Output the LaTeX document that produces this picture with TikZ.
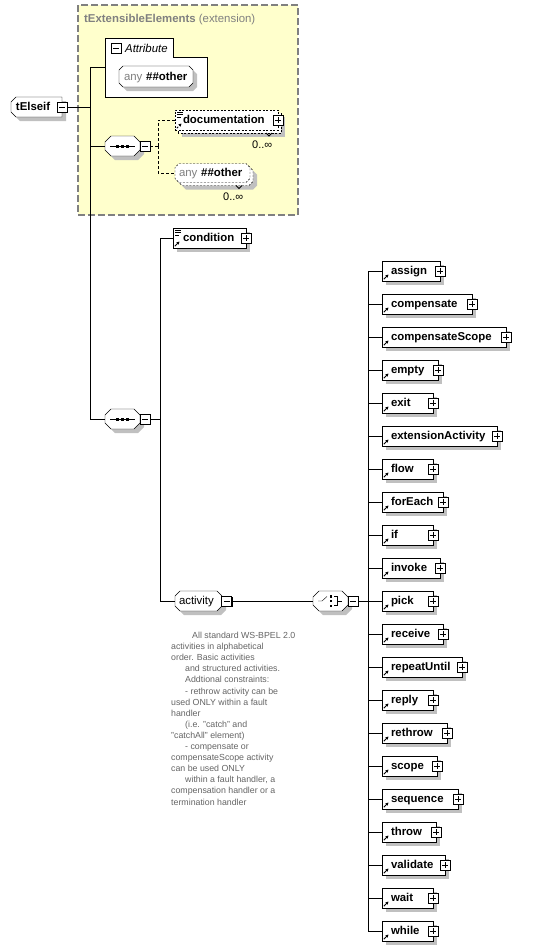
\documentclass[tikz,border=0pt]{standalone}
\usepackage{fontspec}
\setmainfont{Liberation Sans}
\usetikzlibrary{shadows,arrows.meta,calc}
\pgfdeclarelayer{back}
\pgfdeclarelayer{bg}
\pgfsetlayers{back,bg,main}
\definecolor{shd}{RGB}{192,192,192}
\definecolor{ybg}{RGB}{255,255,204}
\definecolor{ybd}{RGB}{128,128,128}
\definecolor{gtx}{RGB}{128,128,128}
\definecolor{ann}{RGB}{100,100,100}
\newcommand\octshape[3]{\path[#1] ([xshift=#3]#2.north west) -- ([xshift=-#3]#2.north east) -- ([yshift=-#3]#2.north east) -- ([yshift=#3]#2.south east) -- ([xshift=-#3]#2.south east) -- ([xshift=#3]#2.south west) -- ([yshift=#3]#2.south west) -- ([yshift=-#3]#2.north west) -- cycle;}
\newcommand\lshape[2]{\path[#1] ([xshift=5pt]#2.north west) -- (#2.north east) -- (#2.south east) -- ([xshift=5pt]#2.south west) -- ([yshift=5pt]#2.south west) -- ([yshift=-5pt]#2.north west) -- cycle;}
\newcommand\seqsym[1]{%
  \draw ([xshift=5pt]#1.west) -- ([xshift=30pt]#1.west);
  \fill ([shift={(11pt,-1.5pt)}]#1.west) rectangle ([shift={(14pt,1.5pt)}]#1.west);
  \fill ([shift={(16pt,-1.5pt)}]#1.west) rectangle ([shift={(19pt,1.5pt)}]#1.west);
  \fill ([shift={(21pt,-1.5pt)}]#1.west) rectangle ([shift={(24pt,1.5pt)}]#1.west);}
\newcommand\choicesym[1]{%
  \draw ([xshift=5pt]#1.west) -- ([xshift=9pt]#1.west) -- ([shift={(14pt,4.5pt)}]#1.west);
  \fill ([shift={(16.5pt,3.5pt)}]#1.west) rectangle ([shift={(19pt,6pt)}]#1.west);
  \fill ([shift={(16.5pt,-1.25pt)}]#1.west) rectangle ([shift={(19pt,1.25pt)}]#1.west);
  \fill ([shift={(16.5pt,-6pt)}]#1.west) rectangle ([shift={(19pt,-3.5pt)}]#1.west);
  \draw ([shift={(21pt,4.5pt)}]#1.west) -- ([shift={(24pt,4.5pt)}]#1.west) -- ([shift={(24pt,-4.5pt)}]#1.west) -- ([shift={(21pt,-4.5pt)}]#1.west);
  \draw ([xshift=24pt]#1.west) -- ([xshift=29pt]#1.west);}
\newcommand\docicon[1]{%
  \draw[line width=0.7pt] ([shift={(2pt,-2.5pt)}]#1.north west) -- ([shift={(7.5pt,-2.5pt)}]#1.north west)
    ([shift={(2pt,-4.8pt)}]#1.north west) -- ([shift={(7.5pt,-4.8pt)}]#1.north west)
    ([shift={(2pt,-7.1pt)}]#1.north west) -- ([shift={(5.5pt,-7.1pt)}]#1.north west);}
\tikzset{
  lbl/.style={font=\fontsize{11.4}{13}\selectfont\bfseries},
  tbox/.style={anchor=west, minimum height=20pt, inner ysep=0pt, text height=9pt, text depth=1.5pt, align=left, outer sep=0pt, lbl},
  blank/.style={anchor=west, minimum height=20pt, inner sep=0pt, outer sep=0pt},
  refarrow/.style={path picture={\draw[line width=0.9pt,-{Stealth[length=3.2pt,width=3.2pt]}] ([shift={(1.8pt,1.8pt)}]path picture bounding box.south west) -- ([shift={(6.5pt,6.5pt)}]path picture bounding box.south west);}},
  elem/.style={tbox, draw, fill=white, inner xsep=9pt, refarrow, drop shadow={shadow xshift=4pt, shadow yshift=-4pt, opacity=1, fill=shd}},
  plusbox/.style={draw, fill=white, minimum size=10pt, inner sep=0pt, outer sep=0pt, drop shadow={shadow xshift=1.3pt, shadow yshift=-1.3pt, opacity=1, fill=black},
    path picture={\draw ([xshift=2pt]path picture bounding box.west) -- ([xshift=-2pt]path picture bounding box.east); \draw ([yshift=-2pt]path picture bounding box.north) -- ([yshift=2pt]path picture bounding box.south);}},
  minusbox/.style={draw, fill=white, minimum size=10pt, inner sep=0pt, outer sep=0pt, drop shadow={shadow xshift=1.3pt, shadow yshift=-1.3pt, opacity=1, fill=black},
    path picture={\draw ([xshift=2pt]path picture bounding box.west) -- ([xshift=-2pt]path picture bounding box.east);}},
  dashline/.style={dash pattern=on 3pt off 2pt},
  dashbox/.style={dash pattern=on 2pt off 1.5pt},
  card/.style={anchor=base west, inner sep=0pt, font=\fontsize{11}{13}\selectfont}
}
\newcommand\actel[3]{%
  \pgfmathsetmacro\tw{#3-382-18}%
  \node[elem, text width=\tw pt] (#1) at (382,#2) {\mbox{#1}};
  \node[plusbox] (#1-p) at (#1.east) {};
  \draw (b4) |- (#1.west);}
\begin{document}
\begin{tikzpicture}[x=1pt,y=-1pt,line width=1pt]
\useasboundingbox (0,0) rectangle (534,951);
% extension area
\begin{pgfonlayer}{back}
\filldraw[fill=ybg, draw=ybd, line width=1.5pt, dash pattern=on 7pt off 3pt] (78,5) rectangle (298,215);
\end{pgfonlayer}
\node[anchor=base west, inner sep=0pt, text=gtx, font=\fontsize{11.4}{13}\selectfont] (title) at (84,22.5) {\textbf{tExtensibleElements} (extension)};
% root element
\node[tbox, inner xsep=5pt, text width=41pt] (tElseif) at (11,107) {\mbox{tElseif}};
\begin{pgfonlayer}{bg}
\lshape{fill=shd, transform canvas={shift={(4pt,-4pt)}}}{tElseif}
\lshape{draw, fill=white}{tElseif}
\end{pgfonlayer}
\node[minusbox] (tElseif-m) at (tElseif.east) {};
\coordinate (b1) at (90,107);
\draw (tElseif-m.east) -- (b1);
% attributes
\node[anchor=north west, minimum width=102pt, minimum height=59pt, inner sep=0pt, outer sep=0pt] (attr) at (105,38) {};
\begin{pgfonlayer}{bg}
\filldraw[fill=white] (105,38) -- (173,38) -- (173,57) -- (207,57) -- (207,97) -- (105,97) -- cycle;
\end{pgfonlayer}
\node[minusbox] (attr-m) at (116,48) {};
\node[anchor=base west, inner sep=0pt, font=\fontsize{11.4}{13}\selectfont\itshape] (attrlbl) at (125,52) {Attribute};
\node[tbox, inner xsep=5pt, text width=64pt, minimum height=21pt] (any1) at (119,76.5) {\mbox{\textcolor{gtx}{\mdseries any} \#\#other}};
\begin{pgfonlayer}{bg}
\octshape{fill=shd, transform canvas={shift={(4pt,-4pt)}}}{any1}{4pt}
\octshape{draw, fill=white}{any1}{4pt}
\end{pgfonlayer}
\draw (b1) |- (attr.west);
% first sequence
\node[blank, minimum width=35pt] (seq1) at (105,146) {};
\begin{pgfonlayer}{bg}
\octshape{fill=shd, transform canvas={shift={(4pt,-4pt)}}}{seq1}{6pt}
\octshape{draw, fill=white}{seq1}{6pt}
\end{pgfonlayer}
\seqsym{seq1}
\node[minusbox] (seq1-m) at ([xshift=5pt]seq1.east) {};
\draw (b1) |- (seq1.west);
\coordinate (b2) at (158,146);
\draw[dashline] (seq1-m.east) -- (b2);
% documentation
\node[tbox, draw, dashbox, fill=white, inner xsep=8pt, text width=87pt, refarrow] (doc) at (175,120) {\mbox{documentation}};
\begin{pgfonlayer}{bg}
\fill[shd, transform canvas={shift={(7pt,-7pt)}}] (doc.south west) rectangle (doc.north east);
\filldraw[fill=white, dashbox, transform canvas={shift={(3pt,-3pt)}}] (doc.south west) rectangle (doc.north east);
\end{pgfonlayer}
\docicon{doc}
\node[plusbox] (doc-p) at (doc.east) {};
\draw[line width=0.8pt] (266,133) -- (269,136) -- (272,133);
\node[card] (doc-card) at (252,148) {0..∞};
\draw[dashline] (b2) |- (doc.west);
% any other (sequence)
\node[tbox, inner xsep=4pt, text width=67pt, minimum height=19pt] (any2) at (175,173) {\mbox{\textcolor{gtx}{\mdseries any} \#\#other}};
\begin{pgfonlayer}{bg}
\octshape{fill=shd, transform canvas={shift={(7pt,-7pt)}}}{any2}{4pt}
\octshape{draw, fill=white, dashbox, transform canvas={shift={(3pt,-3pt)}}}{any2}{4pt}
\octshape{draw, fill=white, dashbox}{any2}{4pt}
\end{pgfonlayer}
\draw[line width=0.8pt] (236,185.5) -- (239,188.5) -- (242,185.5);
\node[card] (any2-card) at (223,200) {0..∞};
\draw[dashline] (b2) |- (any2.west);
% second sequence
\node[blank, minimum width=35pt] (seq2) at (105,419) {};
\begin{pgfonlayer}{bg}
\octshape{fill=shd, transform canvas={shift={(4pt,-4pt)}}}{seq2}{6pt}
\octshape{draw, fill=white}{seq2}{6pt}
\end{pgfonlayer}
\seqsym{seq2}
\node[minusbox] (seq2-m) at ([xshift=5pt]seq2.east) {};
\draw (b1) |- (seq2.west);
\coordinate (b3) at (160,419);
\draw (seq2-m.east) -- (b3);
% condition
\node[elem, inner xsep=10pt, text width=53pt] (condition) at (173,238) {\mbox{condition}};
\docicon{condition}
\node[plusbox] (condition-p) at (condition.east) {};
\draw (b3) |- (condition.west);
% activity group
\node[tbox, font=\fontsize{11.4}{13}\selectfont, inner xsep=4pt, text width=39pt] (activity) at (175,601) {\mbox{activity}};
\begin{pgfonlayer}{bg}
\octshape{fill=shd, transform canvas={shift={(4pt,-4pt)}}}{activity}{5pt}
\octshape{draw, fill=white}{activity}{5pt}
\end{pgfonlayer}
\node[minusbox] (activity-m) at ([xshift=4.5pt]activity.east) {};
\draw (b3) |- (activity.west);
% choice
\node[blank, minimum width=35pt] (choice) at (313,601) {};
\begin{pgfonlayer}{bg}
\octshape{fill=shd, transform canvas={shift={(4pt,-4pt)}}}{choice}{6pt}
\octshape{draw, fill=white}{choice}{6pt}
\end{pgfonlayer}
\choicesym{choice}
\node[minusbox] (choice-m) at ([xshift=5pt]choice.east) {};
\draw (activity-m.east) -- (choice.west);
\coordinate (b4) at (368,601);
\draw (choice-m.east) -- (b4);
% activities
\actel{assign}{271}{440}
\actel{compensate}{304}{472}
\actel{compensateScope}{337}{506}
\actel{empty}{370}{438}
\actel{exit}{403}{433}
\actel{extensionActivity}{436}{497}
\actel{flow}{469}{433}
\actel{forEach}{502}{443}
\actel{if}{535}{433}
\actel{invoke}{568}{440}
\actel{pick}{601}{433}
\actel{receive}{634}{443}
\actel{repeatUntil}{667}{462}
\actel{reply}{700}{433}
\actel{rethrow}{733}{447}
\actel{scope}{766}{437}
\actel{sequence}{799}{458}
\actel{throw}{832}{436}
\actel{validate}{865}{445}
\actel{wait}{898}{433}
\actel{while}{931}{433}
% annotation
\node[anchor=north west, inner sep=0pt, align=left, text=ann, font=\fontsize{8.8}{11.1}\selectfont] (note) at (171,632) {%
\hspace*{21pt}All standard WS-BPEL 2.0\\
activities in alphabetical\\
order. Basic activities\\
\hspace*{14pt}and structured activities.\\
\hspace*{14pt}Addtional constraints:\\
\hspace*{14pt}- rethrow activity can be\\
used ONLY within a fault\\
handler\\
\hspace*{14pt}(i.e. "catch" and\\
"catchAll" element)\\
\hspace*{14pt}- compensate or\\
compensateScope activity\\
can be used ONLY\\
\hspace*{14pt}within a fault handler, a\\
compensation handler or a\\
termination handler};
\end{tikzpicture}
\end{document}
